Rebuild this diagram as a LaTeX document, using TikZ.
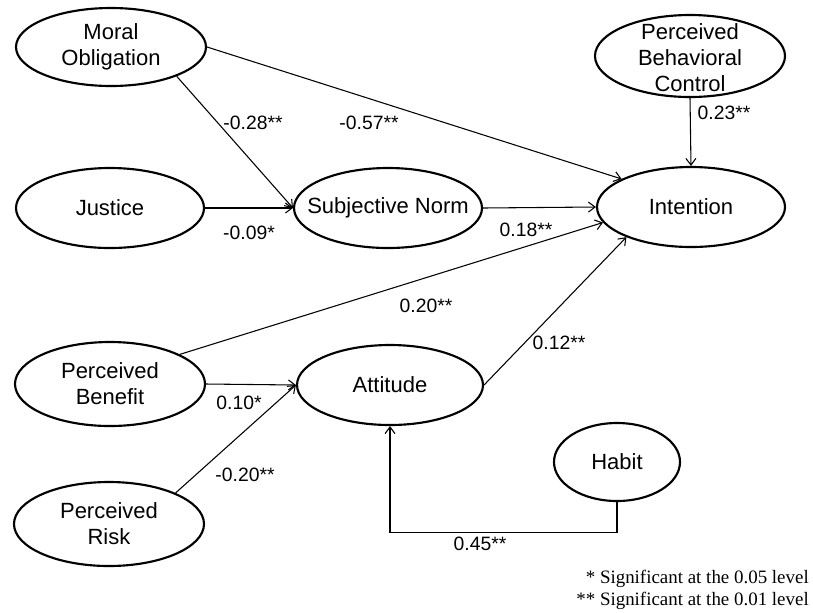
\documentclass[tikz,border=0pt]{standalone}
\usepackage{fontspec}
\setmainfont{Liberation Sans}
\newfontfamily\legendfont{Liberation Serif}
\usetikzlibrary{shapes.geometric,arrows.meta}

\begin{document}
\begin{tikzpicture}[x=0.75pt,y=-0.75pt,
  oval/.style={ellipse, draw, line width=1.6pt, inner sep=0pt,
    minimum width={#1*0.75pt}},
  ovalh/.style={minimum height={#1*0.75pt}},
  cname/.style={align=center, font=\fontsize{16.5}{19.5}\selectfont, inner sep=0pt},
  link/.style={line width=0.8pt, -{Straight Barb[length=5pt,width=7.5pt,line width=0.8pt]}},
  coef/.style={font=\fontsize{14.5}{17}\selectfont, inner sep=0pt},
]
\useasboundingbox (0,0) rectangle (813,612);

% latent constructs
\node[oval=190, ovalh=78] (mo)  at (111,47)  {};
\node[oval=190, ovalh=82] (pbc) at (690,56)  {};
\node[oval=188, ovalh=80] (ju)  at (110,208) {};
\node[oval=188, ovalh=80] (sn)  at (388,208) {};
\node[oval=188, ovalh=80] (int) at (691,207) {};
\node[oval=190, ovalh=84] (pb)  at (110,384) {};
\node[oval=186, ovalh=80] (att) at (390,385) {};
\node[oval=126, ovalh=78] (hab) at (617,462) {};
\node[oval=190, ovalh=84] (pr)  at (109,524) {};

% construct names
\node[cname] (mo-t)  at (mo)  {Moral\\Obligation};
\node[cname] (pbc-t) at (690,58) {Perceived\\Behavioral\\Control};
\node[cname] (ju-t)  at (ju)  {Justice};
\node[cname] (sn-t)  at (sn)  {Subjective Norm};
\node[cname] (int-t) at (int) {Intention};
\node[cname] (pb-t)  at (pb)  {Perceived\\Benefit};
\node[cname] (att-t) at (att) {Attitude};
\node[cname] (hab-t) at (hab) {Habit};
\node[cname] (pr-t)  at (pr)  {Perceived\\Risk};

% structural paths
\draw[link] (mo.-24) -- (sn.west);
\draw[link] (mo.east) -- (int.158);
\draw[link] (pbc.south) -- (int.north);
\draw[link] (ju.east) -- (sn.west);
\draw[link] (sn.east) -- (int.west);
\draw[link] (pb.23) -- (int.190);
\draw[link] (pb.east) -- (att.west);
\draw[link] (pr.25) -- (att.west);
\draw[link] (att.east) -- (int.205);
\draw[link] (hab.south) -- ++(0,30) -| (att.south);

% path coefficients
\node[coef] (c1)  at (253,123) {-0.28**};
\node[coef] (c2)  at (369,123) {-0.57**};
\node[coef] (c3)  at (724,113) {0.23**};
\node[coef] (c4)  at (249,233) {-0.09*};
\node[coef] (c5)  at (526,230) {0.18**};
\node[coef] (c6)  at (426,306) {0.20**};
\node[coef] (c7)  at (239,403) {0.10*};
\node[coef] (c8)  at (245,475) {-0.20**};
\node[coef] (c9)  at (559,343) {0.12**};
\node[coef] (c10) at (480,544) {0.45**};

% significance key
\node[anchor=north east, align=right, inner sep=0pt,
  font=\legendfont\fontsize{14.2}{16.5}\selectfont] (key) at (809,570)
  {* Significant at the 0.05 level\\** Significant at the 0.01 level};
\end{tikzpicture}
\end{document}
